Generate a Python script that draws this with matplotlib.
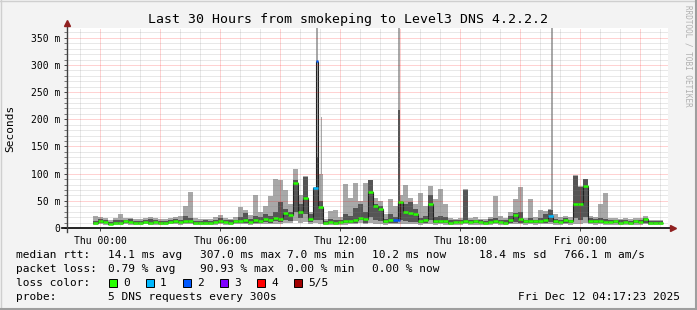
import numpy as np
import matplotlib
matplotlib.use('Agg')
import matplotlib.pyplot as plt
from matplotlib.lines import Line2D

plt.rcParams['font.family'] = ['DejaVu Sans Mono']

# time axis: hours relative to Thu 00:00, 15 minute steps
t_start = -0.35
step = 0.25

# median rtt (ms) per step
med = [9, 13, 11, 7, 10, 10, 12, 11, 9, 10, 11, 10, 11, 10, 9, 11, 12, 11, 12, 13,
       10, 9, 10, 9, 11, 12, 11, 10, 12, 13, 14, 11, 15, 13, 17, 14, 18, 16, 28, 24,
       83, 30, 55, 16, 73, 39, 10, 11, 10, 11, 12, 13, 14, 18, 16, 67, 41, 35, 12, 14,
       15, 47, 30, 28, 26, 12, 14, 44, 12, 13, 12, 10, 11, 11, 12, 11, 12, 11, 10, 11,
       12, 11, 10, 14, 24, 16, 12, 13, 12, 13, 14, 22, 12, 11, 14, 12, 45, 44, 77, 13,
       12, 13, 11, 11, 12, 10, 11, 10, 12, 11, 16, 9, 10, 9]
# fastest ping
lo = [6, 7, 6, 5, 6, 6, 7, 6, 6, 6, 7, 6, 6, 6, 6, 7, 7, 6, 7, 7,
      6, 6, 6, 6, 6, 7, 6, 6, 7, 7, 7, 6, 7, 7, 7, 7, 8, 8, 9, 9,
      12, 10, 11, 8, 10, 8, 6, 6, 6, 6, 6, 7, 7, 9, 7, 9, 8, 8, 6, 7,
      7, 8, 8, 7, 7, 6, 7, 8, 6, 7, 6, 6, 6, 6, 7, 6, 6, 6, 6, 6,
      7, 6, 6, 7, 8, 7, 6, 7, 6, 7, 7, 8, 6, 6, 7, 6, 8, 8, 9, 7,
      6, 7, 6, 6, 6, 6, 6, 6, 6, 6, 7, 6, 6, 6]
# 2nd ping
dlo = [8, 9, 9, 6, 8, 8, 9, 9, 8, 8, 9, 8, 9, 8, 8, 9, 9, 9, 10, 10,
       8, 8, 8, 8, 9, 9, 9, 9, 9, 10, 10, 9, 10, 10, 11, 10, 12, 11, 14, 13,
       30, 18, 25, 11, 14, 14, 8, 9, 8, 9, 9, 10, 10, 15, 10, 20, 14, 12, 9, 10,
       10, 14, 12, 11, 11, 9, 10, 14, 9, 10, 9, 8, 9, 9, 9, 9, 9, 9, 8, 9,
       9, 9, 8, 10, 11, 10, 9, 9, 9, 9, 10, 11, 9, 9, 10, 9, 18, 14, 20, 9,
       9, 9, 9, 9, 9, 8, 9, 8, 9, 9, 10, 8, 8, 8]
# 4th ping
dhi = [13, 16, 14, 11, 14, 15, 15, 16, 12, 13, 14, 16, 14, 13, 12, 14, 16, 15, 22, 18,
       13, 12, 14, 13, 14, 18, 14, 14, 15, 20, 28, 16, 22, 20, 25, 22, 30, 48, 35, 30,
       88, 45, 93, 25, 73, 50, 13, 16, 14, 14, 25, 22, 37, 45, 30, 88, 45, 40, 16, 25,
       20, 48, 45, 47, 35, 18, 22, 60, 20, 22, 20, 14, 14, 15, 70, 14, 15, 14, 13, 16,
       18, 15, 14, 22, 27, 30, 15, 18, 15, 18, 25, 33, 16, 14, 18, 15, 96, 76, 91, 18,
       16, 18, 16, 14, 15, 14, 14, 13, 15, 14, 18, 12, 13, 12]
# slowest ping
hi = [22, 20, 18, 15, 18, 26, 18, 19, 16, 17, 18, 20, 19, 17, 16, 18, 20, 22, 40, 67,
      18, 16, 17, 16, 20, 24, 18, 17, 20, 39, 33, 24, 60, 30, 40, 58, 90, 88, 70, 45,
      109, 60, 95, 30, 75, 100, 17, 31, 34, 20, 81, 55, 83, 50, 82, 88, 55, 50, 25, 53,
      40, 60, 80, 55, 45, 65, 40, 78, 53, 71, 45, 18, 17, 19, 72, 18, 20, 17, 16, 20,
      59, 22, 18, 30, 53, 76, 18, 54, 20, 33, 32, 35, 25, 20, 22, 20, 97, 78, 91, 22,
      20, 45, 64, 18, 19, 17, 18, 16, 19, 18, 22, 15, 15, 15]
loss = [0] * 114
loss[44] = 1
loss[60] = 2
loss[91] = 1

# single 5 minute samples with big outliers
spike_t = [10.8, 11.03, 14.9, 22.55]
spike_lo = [10, 9, 9, 9]
spike_dlo = [14, 14, 12, 11]
spike_dhi = [130, 50, 217, 30]
spike_hi = [380, 205, 380, 380]
spike_med = [307, 39, 15, 22]
spike_loss = [2, 0, 2, 1]
spike_w = 1 / 12

loss_colors = ['#26ff00', '#00b8ff', '#0059ff', '#7e00ff', '#ff0000', '#a10000']
loss_names = ['0', '1', '2', '3', '4', '5/5']

tick_pos = [0, 6, 12, 18, 24]
tick_lab = ['Thu 00:00', 'Thu 06:00', 'Thu 12:00', 'Thu 18:00', 'Fri 00:00']

W, H = 697, 310
fig = plt.figure(figsize=(W / 100, H / 100), dpi=100, facecolor='#f3f3f3')
ax = fig.add_axes([67 / W, (H - 228) / H, 601 / W, 200 / H])
ax.set_facecolor('white')
x0, x1 = -1.65, 28.4
ax.set_xlim(x0, x1)
ax.set_ylim(0, 368)

n = len(med)
edges = t_start + step * np.arange(n + 1)
med = np.array(med, float)
light = '#a8a8a8'
dark = '#555555'

ax.stairs(hi, edges, baseline=lo, fill=True, color=light, lw=0, zorder=2)
ax.bar(spike_t, np.subtract(spike_hi, spike_lo), width=spike_w, bottom=spike_lo,
       align='edge', color=light, lw=0, zorder=2)
ax.stairs(dhi, edges, baseline=dlo, fill=True, color=dark, lw=0, zorder=3)
ax.bar(spike_t, np.subtract(spike_dhi, spike_dlo), width=spike_w, bottom=spike_dlo,
       align='edge', color=dark, lw=0, zorder=3)

# median line
ax.stairs(med, edges, baseline=None, color='#202020', lw=0.8, zorder=4)
for t, m in zip(spike_t, spike_med):
    k = int((t - t_start) / step)
    ax.vlines([t, t + spike_w], med[k], m, color='#202020', lw=0.8, zorder=4)
ax.hlines(med, edges[:-1], edges[1:], colors=[loss_colors[l] for l in loss],
          lw=1.8, zorder=5)
ax.hlines(spike_med, spike_t, np.add(spike_t, spike_w),
          colors=[loss_colors[l] for l in spike_loss], lw=1.8, zorder=5)

# grid on top
minor_c = (0.5, 0.5, 0.5, 0.35)
major_c = (1.0, 0.0, 0.0, 0.35)
dot = (0, (1, 1))
for h in range(-1, 29):
    if h % 3:
        ax.axvline(h, color=minor_c, lw=0.72, ls=dot, zorder=6)
    else:
        ax.axvline(h, color=major_c, lw=0.72, ls=dot, zorder=6)
for v in range(10, 368, 10):
    if v % 50:
        ax.axhline(v, color=minor_c, lw=0.72, ls=dot, zorder=6)
    else:
        ax.axhline(v, color=major_c, lw=0.72, ls=dot, zorder=6)

for s in ax.spines.values():
    s.set_visible(False)
ax.set_xticks(tick_pos)
ax.set_xticklabels(tick_lab, fontsize=7)
yt = list(range(0, 351, 50))
ax.set_yticks(yt)
ax.set_yticklabels(['0' if v == 0 else f'{v} m' for v in yt], fontsize=7)
ax.set_yticks(range(10, 368, 10), minor=True)
ax.tick_params(axis='both', length=2, width=0.7, color='#444444', pad=3)
ax.tick_params(axis='y', which='minor', length=2, width=0.7, color='#777777')
ax.tick_params(axis='x', pad=4)

# axes with arrows
ax.plot([-5 / 601, 1 + 3 / 601], [0, 0], transform=ax.transAxes, color='#000000',
        lw=1.2, clip_on=False, zorder=7)
ax.plot([0, 0], [-4 / 200, 1 + 4 / 200], transform=ax.transAxes, color='#404040',
        lw=1.0, clip_on=False, zorder=7)
ax.plot([1 + 5 / 601], [0], transform=ax.transAxes, marker='>', ms=5,
        color='#902020', clip_on=False, zorder=8)
ax.plot([0], [1 + 5 / 200], transform=ax.transAxes, marker='^', ms=5,
        color='#902020', clip_on=False, zorder=8)

fig.text(347.5 / W, 1 - 19 / H, 'Last 30 Hours from smokeping to Level3 DNS 4.2.2.2',
         ha='center', va='center', fontsize=9.5)
fig.text(10 / W, 1 - 128 / H, 'Seconds', rotation=90, ha='center', va='center',
         fontsize=8)
fig.text(688 / W, 1 - 5 / H, 'RRDTOOL / TOBI OETIKER', rotation=270, ha='center',
         va='top', fontsize=5.5, color='#b0b0b0')

def put(x, y, s, **kw):
    fig.text(x / W, 1 - y / H, s, va='center', fontsize=8, **kw)

rows = [
    ['median rtt:', '14.1 ms avg', '307.0 ms max', '7.0 ms min', '10.2 ms now',
     '18.4 ms sd', '766.1 m am/s'],
    ['packet loss:', '0.79 % avg', '90.93 % max', '0.00 % min', '0.00 % now'],
]
cols = [16, 107.5, 200, 287, 372, 479, 564]
for r, row in enumerate(rows):
    for c, s in enumerate(row):
        put(cols[c], 255 + 14 * r, s)

put(16, 283, 'loss color:')
for i, (c, name) in enumerate(zip(loss_colors, loss_names)):
    bx = 109 + 37 * i
    fig.patches.append(plt.Rectangle((bx / W, 1 - 287 / H), 8 / W, 8 / H,
                                     transform=fig.transFigure, facecolor=c,
                                     edgecolor='black', lw=0.7))
    put(bx + 14, 283, name)

put(16, 297, 'probe:')
put(107.5, 297, '5 DNS requests every 300s')
fig.text(680 / W, 1 - 297 / H, 'Fri Dec 12 04:17:23 2025', ha='right', va='center',
         fontsize=8)

# 3d border
fig.add_artist(Line2D([0, 1], [1 - 0.5 / H, 1 - 0.5 / H], color='#cfcfcf', lw=1))
fig.add_artist(Line2D([0.5 / W, 0.5 / W], [0, 1], color='#cfcfcf', lw=1))
fig.add_artist(Line2D([0, 1], [1 / H, 1 / H], color='#9e9e9e', lw=1.5))
fig.add_artist(Line2D([1 - 1 / W, 1 - 1 / W], [0, 1], color='#9e9e9e', lw=1.5))

fig.savefig('out.png', dpi=100, facecolor=fig.get_facecolor())
